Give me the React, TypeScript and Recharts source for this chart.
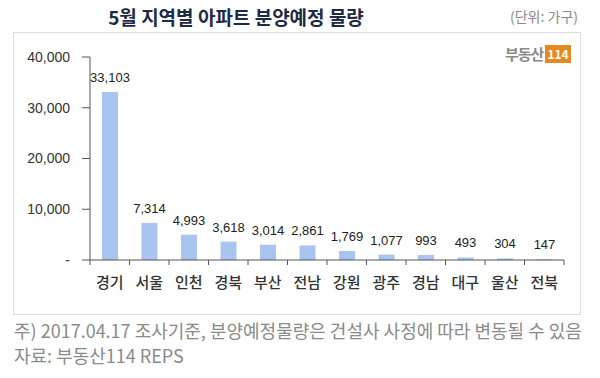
import { BarChart, Bar, XAxis, YAxis, LabelList } from 'recharts'

const regions = ['경기', '서울', '인천', '경북', '부산', '전남', '강원', '광주', '경남', '대구', '울산', '전북']
const supply = [33103, 7314, 4993, 3618, 3014, 2861, 1769, 1077, 993, 493, 304, 147]
const yTicks = [0, 10000, 20000, 30000, 40000]

const data = regions.map((region, i) => ({ region, supply: supply[i] }))

const KR = '"Noto Sans CJK KR", "Noto Sans", sans-serif'
const plotLeft = 90
const plotRight = 564
const step = (plotRight - plotLeft) / regions.length

function CategoryTick(props: any) {
  const { x, y, payload } = props
  return (
    <g>
      <line x1={x - step / 2} x2={x - step / 2} y1={y - 8} y2={y - 3} stroke="#555" />
      {payload.index === regions.length - 1 && (
        <line x1={x + step / 2} x2={x + step / 2} y1={y - 8} y2={y - 3} stroke="#555" />
      )}
      <text x={x} y={y + 20} textAnchor="middle" fontSize={15} fontWeight={500} fill="#333" fontFamily={KR}>
        {payload.value}
      </text>
    </g>
  )
}

export default function App() {
  return (
    <div style={{ position: 'absolute', left: 0, top: 0, width: 600, height: 378, background: '#fff', fontFamily: KR }}>
      <div style={{ position: 'absolute', left: 0, top: 3, width: 472, textAlign: 'center', fontSize: 19, fontWeight: 700, color: '#1f2a44' }}>
        5월 지역별 아파트 분양예정 물량
      </div>
      <div style={{ position: 'absolute', right: 22, top: 6, fontSize: 14, color: '#8a8a8a' }}>(단위: 가구)</div>
      <div style={{ position: 'absolute', left: 13, top: 32, width: 568, height: 283, border: '1px solid #dcdcdc', boxSizing: 'border-box' }} />
      <div style={{ position: 'absolute', left: 505, top: 43, display: 'flex', alignItems: 'center', gap: 2 }}>
        <span style={{ fontSize: 15, fontWeight: 700, color: '#8a8a8a', letterSpacing: -1 }}>부동산</span>
        <span style={{ background: '#e8891f', color: '#fff', fontSize: 12, fontWeight: 700, padding: '1px 2px', lineHeight: '16px' }}>114</span>
      </div>
      <div style={{ position: 'absolute', left: 0, top: 0 }}>
        <BarChart width={600} height={315} data={data} margin={{ top: 57, right: 600 - plotRight, left: 0, bottom: 15 }}>
          <XAxis
            dataKey="region"
            axisLine={{ stroke: '#555' }}
            tickLine={false}
            height={40}
            interval={0}
            tick={<CategoryTick />}
          />
          <YAxis
            width={plotLeft}
            domain={[0, 40000]}
            ticks={yTicks}
            axisLine={{ stroke: '#555' }}
            tickLine={{ stroke: '#555' }}
            tickSize={8}
            tickMargin={12}
            tick={{ fontSize: 14, fill: '#333', fontFamily: 'Liberation Sans, sans-serif' }}
            tickFormatter={(v: number) => (v === 0 ? '-' : v.toLocaleString('en-US'))}
          />
          <Bar dataKey="supply" fill="#a9c4ef" barSize={16} isAnimationActive={false}>
            <LabelList
              dataKey="supply"
              position="top"
              offset={10}
              fontSize={13}
              fill="#222"
              fontFamily="Liberation Sans, sans-serif"
              formatter={(v: any) => Number(v).toLocaleString('en-US')}
            />
          </Bar>
        </BarChart>
      </div>
      <div style={{ position: 'absolute', left: 14, top: 318, fontSize: 18, color: '#8a8a8a', lineHeight: '25px', whiteSpace: 'nowrap' }}>
        <div>주) 2017.04.17 조사기준, 분양예정물량은 건설사 사정에 따라 변동될 수 있음</div>
        <div>자료: 부동산114 REPS</div>
      </div>
    </div>
  )
}
